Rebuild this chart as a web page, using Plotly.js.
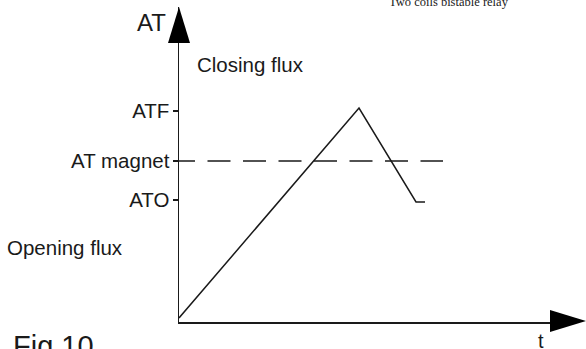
<!DOCTYPE html>
<html>
<head>
<meta charset="utf-8">
<script src="https://cdn.plot.ly/plotly-3.0.1.min.js"></script>
<style>
  html, body { margin: 0; padding: 0; background: #fff; }
  #chart { width: 586px; height: 349px; }
</style>
</head>
<body>
<div id="chart"></div>
<script>
// ampere-turns over time for the bistable relay
const tVals = [0, 180, 237, 246];
const atVals = [4, 214, 120, 120];

// named flux levels on the AT axis
const levelNames = ["ATF", "AT magnet", "ATO"];
const levelVals = [211, 161, 122];

// magnet level reference line
const magnetT = [-7, 264];
const magnetAT = [161, 161];

const W = 586, H = 349;
const L = 179, R = 36, T = 7, B = 27;
const plotW = W - L - R, plotH = H - T - B;
// pixel -> paper helpers for the decorations outside the axes
const px = (x) => (x - L) / plotW;
const py = (y) => (H - B - y) / plotH;

const sans = "Liberation Sans, Arial, sans-serif";
const ink = "#1a1a1a";

const data = [
  {
    x: magnetT,
    y: magnetAT,
    type: "scatter",
    mode: "lines",
    line: { color: ink, width: 1.3, dash: "23px,12.5px" },
    hoverinfo: "skip",
  },
  {
    x: tVals,
    y: atVals,
    type: "scatter",
    mode: "lines",
    line: { color: ink, width: 1.5 },
    hoverinfo: "skip",
  },
];

const layout = {
  width: W,
  height: H,
  margin: { l: L, r: R, t: T, b: B, pad: 0 },
  paper_bgcolor: "#fff",
  plot_bgcolor: "#fff",
  showlegend: false,
  xaxis: {
    range: [0, plotW],
    showgrid: false,
    zeroline: false,
    showline: true,
    linecolor: ink,
    linewidth: 1.5,
    showticklabels: false,
    ticks: "",
  },
  yaxis: {
    range: [0, plotH],
    showgrid: false,
    zeroline: false,
    showline: true,
    linecolor: ink,
    linewidth: 1.5,
    tickvals: levelVals,
    ticktext: levelNames,
    ticks: "outside",
    ticklen: 5,
    tickwidth: 1.3,
    tickcolor: ink,
    ticklabelstandoff: -1,
    tickfont: { family: sans, size: 20.5, color: ink },
  },
  shapes: [
    // arrow heads
    {
      type: "path", xref: "paper", yref: "paper",
      path: `M ${px(179)} ${py(7)} L ${px(168)} ${py(43)} L ${px(190)} ${py(43)} Z`,
      fillcolor: "#000", line: { width: 0 },
    },
    {
      type: "path", xref: "paper", yref: "paper",
      path: `M ${px(586)} ${py(321)} L ${px(550)} ${py(310)} L ${px(550)} ${py(332)} Z`,
      fillcolor: "#000", line: { width: 0 },
    },
  ],
  annotations: [
    { text: "AT", x: px(168), y: py(22), xanchor: "right", yanchor: "middle",
      font: { family: sans, size: 24, color: ink } },
    { text: "Closing flux", x: px(195), y: py(64), xanchor: "left", yanchor: "middle",
      font: { family: sans, size: 20.5, color: ink } },
    { text: "Opening flux", x: px(5), y: py(247), xanchor: "left", yanchor: "middle",
      font: { family: sans, size: 20.5, color: ink } },
    { text: "Fig 10", x: px(11), y: py(346), xanchor: "left", yanchor: "middle",
      font: { family: sans, size: 29, color: ink } },
    { text: "t", x: px(541), y: py(341), xanchor: "center", yanchor: "middle",
      font: { family: sans, size: 20, color: ink } },
    { text: "Two coils bistable relay", x: px(449), y: py(2), xanchor: "center", yanchor: "middle",
      font: { family: "Liberation Serif, Times New Roman, serif", size: 12.5, color: ink } },
  ].map((a) => ({ ...a, xref: "paper", yref: "paper", showarrow: false })),
};

const config = { staticPlot: true, displayModeBar: false };
Plotly.newPlot("chart", data, layout, config);
</script>
</body>
</html>
